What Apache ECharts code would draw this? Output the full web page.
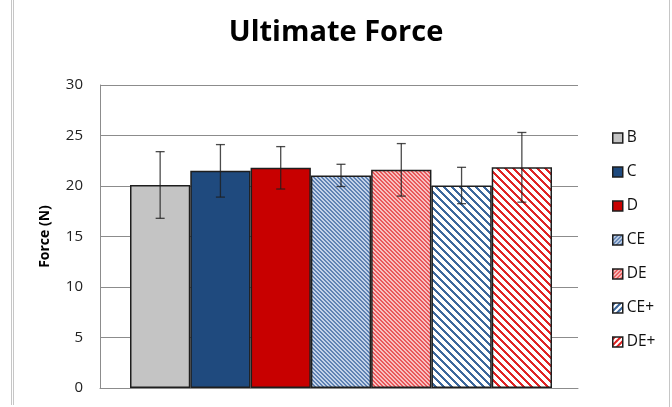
<!DOCTYPE html>
<html><head><meta charset="utf-8">
<script src="https://cdn.jsdelivr.net/npm/echarts@6/dist/echarts.min.js"></script>
<style>html,body{margin:0;padding:0;background:#fff}#c{width:672px;height:407px}</style>
</head><body><div id="c"></div>
<script>
const categories = ['B', 'C', 'D', 'CE', 'DE', 'CE+', 'DE+'];
const means = [20.1, 21.5, 21.8, 21.05, 21.6, 20.05, 21.85];
const errors = [3.3, 2.6, 2.1, 1.1, 2.6, 1.8, 3.45];
const yMin = 0, yMax = 30, yStep = 5;

function stripe(period, width, fg, bg, dir) {
  const c = document.createElement('canvas');
  c.width = period; c.height = period;
  const ctx = c.getContext('2d');
  ctx.fillStyle = bg; ctx.fillRect(0, 0, period, period);
  ctx.fillStyle = fg;
  for (let x = 0; x < period; x++) for (let y = 0; y < period; y++) {
    const k = dir > 0 ? ((x - y) % period + period) % period : (x + y) % period;
    if (k < width) ctx.fillRect(x, y, 1, 1);
  }
  return { image: c, repeat: 'repeat' };
}
const fills = [
  '#c4c4c4',
  '#1f4a7e',
  '#c80000',
  stripe(4, 2, '#5f82b3', '#c3d2e8', 1),
  stripe(4, 2, '#e9585a', '#f8c0c0', 1),
  stripe(8, 3, '#3c679c', '#ffffff', 1),
  stripe(8, 3, '#e02424', '#ffffff', 1)
];
const legendFills = [
  '#c4c4c4',
  '#1f4a7e',
  '#c80000',
  stripe(4, 2, '#5f82b3', '#c3d2e8', -1),
  stripe(4, 2, '#e9585a', '#f8c0c0', -1),
  stripe(6, 3, '#3c679c', '#ffffff', -1),
  stripe(6, 3, '#e02424', '#ffffff', -1)
];

const FONT = 'Open Sans';
const series = categories.map((name, i) => ({
  name, type: 'bar', xAxisIndex: 1, yAxisIndex: 1,
  barGap: '-100%', barCategoryGap: '0%',
  itemStyle: { color: fills[i], borderColor: '#1e1e1e', borderWidth: 1.5 },
  data: categories.map((c, j) => j === i ? means[i] : '-'),
  z: 2
}));
series.push({
  type: 'custom', xAxisIndex: 1, yAxisIndex: 1, z: 5, silent: true,
  data: categories.map((c, i) => [i, means[i] - errors[i], means[i] + errors[i]]),
  renderItem(params, api) {
    const x = api.value(0);
    const lo = api.coord([x, api.value(1)]);
    const hi = api.coord([x, api.value(2)]);
    const h = 4.5;
    const st = { stroke: 'rgba(30,30,30,0.8)', lineWidth: 1.3 };
    return { type: 'group', children: [
      { type: 'line', shape: { x1: lo[0], y1: lo[1], x2: hi[0], y2: hi[1] }, style: st },
      { type: 'line', shape: { x1: lo[0] - h, y1: lo[1], x2: lo[0] + h, y2: lo[1] }, style: st },
      { type: 'line', shape: { x1: hi[0] - h, y1: hi[1], x2: hi[0] + h, y2: hi[1] }, style: st }
    ]};
  }
});

const chart = echarts.init(document.getElementById('c'), null, { renderer: 'canvas' });
chart.setOption({
  animation: false,
  backgroundColor: '#fff',
  title: { text: 'Ultimate Force', left: 'center', top: 13,
    textStyle: { fontFamily: FONT, fontWeight: 'bold', fontSize: 29, color: '#000' } },
  legend: {
    orient: 'vertical', left: 607, top: 125, itemWidth: 10, itemHeight: 10, itemGap: 18,
    textStyle: { fontFamily: FONT, fontSize: 15.5, color: '#111', padding: [0, 0, 0, -1] },
    data: categories.map((n, i) => ({ name: n, icon: 'rect',
      itemStyle: { color: legendFills[i], borderColor: '#1e1e1e', borderWidth: 1.5 } }))
  },
  grid: [
    { left: 100, right: 94, top: 85, bottom: 19 },
    { left: 130, right: 120, top: 85, bottom: 19 }
  ],
  xAxis: [
    { gridIndex: 0, type: 'category', data: [''], axisTick: { show: false }, axisLabel: { show: false },
      axisLine: { lineStyle: { color: '#8c8c8c', width: 1 } } },
    { gridIndex: 1, type: 'category', data: categories, show: false }
  ],
  yAxis: [
    { gridIndex: 0, type: 'value', min: yMin, max: yMax, interval: yStep,
      name: 'Force (N)', nameLocation: 'middle', nameGap: 48,
      nameTextStyle: { fontFamily: FONT, fontWeight: 'bold', fontSize: 14, color: '#000' },
      axisLine: { show: true, lineStyle: { color: '#8c8c8c' } }, axisTick: { show: false },
      axisLabel: { fontFamily: FONT, fontSize: 15, color: '#222', margin: 17 },
      splitLine: { lineStyle: { color: '#8c8c8c', width: 1 } } },
    { gridIndex: 1, type: 'value', min: yMin, max: yMax, interval: yStep, show: false, splitLine: { show: false } }
  ],
  graphic: [
    { type: 'line', shape: { x1: 11.5, y1: 0, x2: 11.5, y2: 405 }, style: { stroke: '#c6c6c6', lineWidth: 1 } },
    { type: 'line', shape: { x1: 13.5, y1: 0, x2: 13.5, y2: 405 }, style: { stroke: '#c6c6c6', lineWidth: 1 } },
    { type: 'line', shape: { x1: 669.5, y1: 0, x2: 669.5, y2: 407 }, style: { stroke: '#c6c6c6', lineWidth: 1 } }
  ],
  series
});
</script></body></html>
